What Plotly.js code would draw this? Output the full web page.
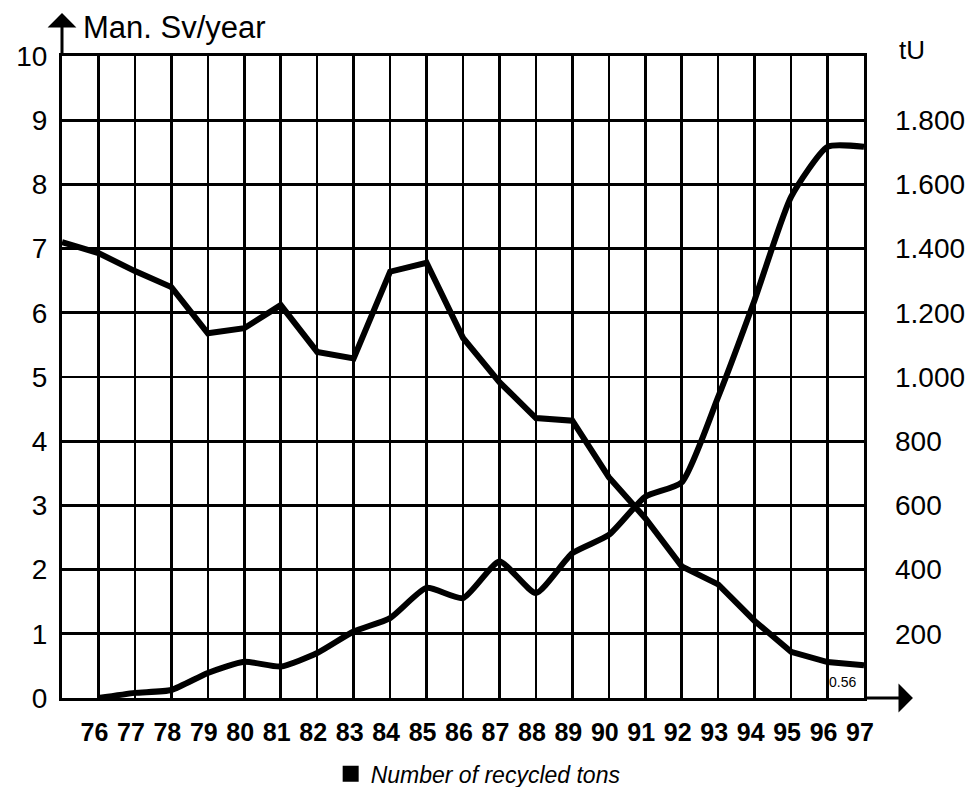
<!DOCTYPE html>
<html>
<head>
<meta charset="utf-8">
<script src="https://cdn.plot.ly/plotly-3.0.1.min.js"></script>
<style>
  html, body { margin: 0; padding: 0; background: #fff; }
  #chart { width: 965px; height: 787px; }
</style>
</head>
<body>
<div id="chart"></div>
<script>
// ---- data ----
const doseYears = [75, 76, 77, 78, 79, 80, 81, 82, 83, 84, 85, 86, 87, 88, 89, 90, 91, 92, 93, 94, 95, 96, 97];
const doseValues = [7.10, 6.93, 6.65, 6.40, 5.68, 5.76, 6.12, 5.39, 5.29, 6.64, 6.78, 5.61, 4.92, 4.36, 4.32, 3.44, 2.80, 2.05, 1.77, 1.20, 0.72, 0.56, 0.51];

const tonsYears = [76, 77, 78, 79, 80, 81, 82, 83, 84, 85, 86, 87, 88, 89, 90, 91, 92, 93, 94, 95, 96, 97];
const tonsValues = [0, 16, 25, 78, 113, 98, 140, 207, 249, 343, 311, 425, 327, 451, 508, 627, 672, 938, 1240, 1561, 1717, 1717];

const xTickValues = [76, 77, 78, 79, 80, 81, 82, 83, 84, 85, 86, 87, 88, 89, 90, 91, 92, 93, 94, 95, 96, 97];
const xTickLabels = ['76', '77', '78', '79', '80', '81', '82', '83', '84', '85', '86', '87', '88', '89', '90', '91', '92', '93', '94', '95', '96', '97'];
const leftTickValues = [0, 1, 2, 3, 4, 5, 6, 7, 8, 9, 10];
const rightTickValues = [200, 400, 600, 800, 1000, 1200, 1400, 1600, 1800];

const leftTitle = 'Man. Sv/year';
const rightTitle = 'tU';
const legendLabel = 'Number of recycled tons';
const labelYear = 96;

const xRange = [75, 97];
const yRange = [0, 10];
const y2Range = [0, 2000];

// ---- traces ----
const traces = [
  {
    x: doseYears, y: doseValues, type: 'scatter', mode: 'lines',
    line: { color: '#000', width: 6, shape: 'linear' },
    showlegend: false, hoverinfo: 'skip'
  },
  {
    x: tonsYears, y: tonsValues, type: 'scatter', mode: 'lines', yaxis: 'y2',
    line: { color: '#000', width: 6, shape: 'spline', smoothing: 0.55 },
    showlegend: false, hoverinfo: 'skip'
  },
  {
    x: [null], y: [null], type: 'scatter', mode: 'markers', yaxis: 'y2',
    marker: { symbol: 'square', size: 17, color: '#000' },
    name: legendLabel, showlegend: true, hoverinfo: 'skip'
  }
];

const baseFont = 'Liberation Sans, Arial, Helvetica, sans-serif';

const labelIdx = doseYears.indexOf(labelYear);

const layout = {
  width: 965, height: 787,
  margin: { l: 62, r: 101, t: 56, b: 89, pad: 0, autoexpand: false },
  paper_bgcolor: '#fff', plot_bgcolor: '#fff',
  separators: ',.',
  showlegend: true,
  legend: {
    orientation: 'h', x: 0.335, xanchor: 'left', y: -0.118, yanchor: 'middle',
    font: { family: baseFont, size: 23, color: '#000', style: 'italic' },
    bgcolor: 'rgba(0,0,0,0)'
  },
  xaxis: {
    range: xRange, tickvals: xTickValues, ticktext: xTickLabels,
    showgrid: true, gridcolor: '#000', gridwidth: 2.6,
    showline: true, linecolor: '#000', linewidth: 3, mirror: true,
    zeroline: false, ticks: '', ticklabelstandoff: 10, ticklabelshift: -4,
    tickfont: { family: baseFont, size: 25, color: '#000', weight: 'bold' }
  },
  yaxis: {
    range: yRange, tickvals: leftTickValues,
    showgrid: true, gridcolor: '#000', gridwidth: 2.6,
    showline: true, linecolor: '#000', linewidth: 3, mirror: true,
    zeroline: false, ticks: '', ticklabelstandoff: 6,
    tickfont: { family: baseFont, size: 28, color: '#000' }
  },
  yaxis2: {
    range: y2Range, overlaying: 'y', side: 'right', tickvals: rightTickValues,
    tickformat: ',d', showgrid: false, showline: false, zeroline: false,
    ticks: '', ticklabelstandoff: 30,
    tickfont: { family: baseFont, size: 28, color: '#000' }
  },
  annotations: [
    { xref: 'paper', yref: 'paper', x: 0.024, y: 1.045, xanchor: 'left', yanchor: 'middle',
      text: leftTitle, showarrow: false, font: { family: baseFont, size: 31, color: '#000' } },
    { xref: 'paper', yref: 'paper', x: 1.041, y: 1.009, xanchor: 'left', yanchor: 'middle',
      text: rightTitle, showarrow: false, font: { family: baseFont, size: 26, color: '#000' } },
    { xref: 'x', yref: 'y', x: labelYear + 0.42, y: 0.25, xanchor: 'center', yanchor: 'middle',
      text: doseValues[labelIdx].toFixed(2), showarrow: false,
      font: { family: baseFont, size: 14, color: '#000' } },
    // axis arrows
    { xref: 'paper', yref: 'paper', x: 0, y: 1.067, ax: 0, ay: 44, text: '',
      showarrow: true, arrowhead: 1, arrowsize: 1.6, arrowwidth: 3, arrowcolor: '#000' },
    { xref: 'paper', yref: 'paper', x: 1.061, y: 0, ax: -50, ay: 0, text: '',
      showarrow: true, arrowhead: 1, arrowsize: 1.6, arrowwidth: 3, arrowcolor: '#000' }
  ]
};

Plotly.newPlot('chart', traces, layout, { displayModeBar: false, staticPlot: true });
</script>
</body>
</html>
